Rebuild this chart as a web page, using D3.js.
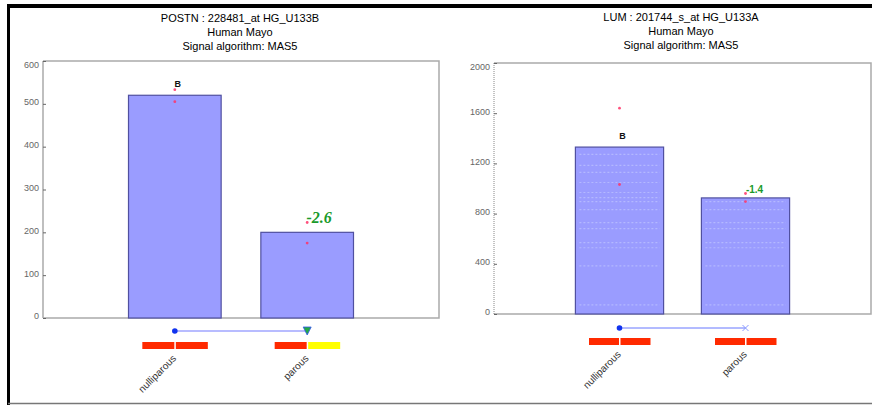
<!DOCTYPE html>
<html><head><meta charset="utf-8">
<script src="https://cdn.jsdelivr.net/npm/d3@7"></script>
<style>
html,body{margin:0;padding:0;background:#fff;}
svg{display:block;font-family:Arial,"Liberation Sans",sans-serif;}
</style></head>
<body><svg id="c" width="872" height="406"></svg>
<script>
// ---- data ----
const categories = ["nulliparous", "parous"];
// Panel 1: POSTN
const titles1 = ["POSTN : 228481_at HG_U133B", "Human Mayo", "Signal algorithm: MAS5"];
const means1 = [520, 200];
const points1 = [[505, 533], [175, 223]];
const ticks1 = [0, 100, 200, 300, 400, 500, 600];
const callLabels1 = ["B", "-2.6"];
const swatches1 = [["#ff2a00", "#ff2a00"], ["#ff2a00", "#ffff00"]];
// Panel 2: LUM
const titles2 = ["LUM : 201744_s_at HG_U133A", "Human Mayo", "Signal algorithm: MAS5"];
const means2 = [1330, 925];
const points2 = [[1032, 1640], [896, 960]];
const ticks2 = [0, 400, 800, 1200, 1600, 2000];
const callLabels2 = ["B", "-1.4"];
const swatches2 = [["#ff2a00", "#ff2a00"], ["#ff2a00", "#ff2a00"]];
const sampleLines2 = [72, 384, 528, 568, 680, 728, 832, 896, 928, 968, 1048, 1128, 1184, 1272];

const svg = d3.select("#c");

// outer frame
svg.append("line").attr("x1", 7).attr("x2", 872).attr("y1", 6).attr("y2", 6).attr("stroke", "#000").attr("stroke-width", 4);
svg.append("line").attr("x1", 8.5).attr("x2", 8.5).attr("y1", 4).attr("y2", 405).attr("stroke", "#000").attr("stroke-width", 3);
svg.append("line").attr("x1", 8).attr("x2", 872).attr("y1", 403.5).attr("y2", 403.5).attr("stroke", "#777").attr("stroke-width", 1.5);

function panel(cfg) {
  const g = svg.append("g");
  const y = d3.scaleLinear().domain(cfg.domain).range([cfg.y0, cfg.y1]);
  const x = d3.scaleBand().domain(categories).range([cfg.x0, cfg.x1]).paddingInner(0.3).paddingOuter(0.646);
  const cx = c => x(c) + x.bandwidth() / 2;

  // titles
  g.selectAll("text.title").data(cfg.titles).join("text")
    .attr("x", cfg.titleX).attr("y", (d, i) => cfg.titleY + i * 14)
    .attr("text-anchor", "middle").attr("font-size", 11).attr("fill", "#000").text(d => d);

  // plot frame (top, right, bottom)
  g.append("path")
    .attr("d", `M${cfg.x0},${cfg.y1}H${cfg.x1}V${cfg.y0}H${cfg.x0}`)
    .attr("fill", "none").attr("stroke", "#aaa").attr("stroke-width", 1.5);
  // y axis
  g.append("line").attr("x1", cfg.x0).attr("x2", cfg.x0).attr("y1", cfg.y1).attr("y2", cfg.y0)
    .attr("stroke", cfg.dotted ? "#888" : "#aaa").attr("stroke-width", cfg.dotted ? 1 : 1.5)
    .attr("stroke-dasharray", cfg.dotted ? "1,1" : null);
  const yAxis = d3.axisRight(y).tickValues(cfg.ticks).tickSize(3).tickFormat(d3.format("d"));
  const ag = g.append("g").attr("transform", `translate(${cfg.x0},0)`).call(yAxis);
  ag.select(".domain").remove();
  ag.selectAll(".tick line").attr("stroke", "#666");
  ag.selectAll(".tick text").attr("x", -4).attr("text-anchor", "end").attr("dy", "0.1em")
    .attr("font-size", 9).attr("fill", "#666").attr("font-family", "Arial, sans-serif");
  ag.selectAll(".tick").filter(d => d === cfg.domain[1]).select("text").attr("dy", "0.75em");

  // bars
  g.selectAll("rect.bar").data(cfg.means).join("rect")
    .attr("x", (d, i) => x(categories[i])).attr("width", x.bandwidth())
    .attr("y", d => y(d)).attr("height", d => y(0) - y(d))
    .attr("fill", "#9a9cff").attr("stroke", "#5050a0").attr("stroke-width", 1.2);

  // faint sample lines inside bars
  if (cfg.sampleLines) {
    cfg.means.forEach((m, i) => {
      g.selectAll(null).data(cfg.sampleLines.filter(v => v < m - 10)).join("line")
        .attr("x1", x(categories[i]) + 4).attr("x2", x(categories[i]) + x.bandwidth() - 4)
        .attr("y1", d => y(d)).attr("y2", d => y(d))
        .attr("stroke", "#b4b8ff").attr("stroke-width", 1.2).attr("stroke-dasharray", "2,2");
    });
  }

  // replicate points
  cfg.points.forEach((pts, i) => {
    g.selectAll(null).data(pts).join("circle")
      .attr("cx", cx(categories[i])).attr("cy", d => y(d)).attr("r", 1.4)
      .attr("fill", "#ff3366").attr("opacity", 0.85);
  });

  // call labels
  g.append("text").attr("x", cx(categories[0]) + 3).attr("y", y(cfg.means[0]) - 8)
    .attr("text-anchor", "middle").attr("font-size", 9).attr("font-weight", "bold").attr("fill", "#111")
    .text(cfg.calls[0]);
  g.append("text").attr("x", cx(categories[1]) + cfg.callDx).attr("y", y(cfg.means[1]) - cfg.callDy)
    .attr("text-anchor", "middle").attr("font-size", cfg.callSize).attr("font-weight", "bold")
    .attr("font-style", cfg.callItalic ? "italic" : null)
    .attr("font-family", cfg.callSerif ? "'Liberation Serif','DejaVu Serif',serif" : "Arial, sans-serif")
    .attr("fill", "#1a9a2a").text(cfg.calls[1]);

  // comparison line
  const ly = cfg.y0 + cfg.lineOff;
  g.append("line").attr("x1", cx(categories[0])).attr("x2", cx(categories[1]))
    .attr("y1", ly).attr("y2", ly).attr("stroke", cfg.lineColor).attr("stroke-width", cfg.lineW);
  g.append("circle").attr("cx", cx(categories[0])).attr("cy", ly).attr("r", 2.8).attr("fill", "#1133ee");
  if (cfg.endMarker === "tri") {
    const ex = cx(categories[1]);
    g.append("path").attr("d", `M${ex - 4},${ly - 4}L${ex + 4},${ly - 4}L${ex},${ly + 4}Z`)
      .attr("fill", "#22aa44").attr("stroke", "#3355ee").attr("stroke-width", 0.8);
  } else {
    const ex = cx(categories[1]);
    g.append("path").attr("d", `M${ex - 3},${ly - 3}L${ex + 3},${ly + 3}M${ex - 3},${ly + 3}L${ex + 3},${ly - 3}`)
      .attr("stroke", "#8899ff").attr("stroke-width", 1);
  }

  // swatches
  cfg.swatches.forEach((sw, i) => {
    const c = cx(categories[i]);
    g.selectAll(null).data(sw).join("rect")
      .attr("x", (d, j) => j === 0 ? c - cfg.swW - 0.5 : c + 1)
      .attr("y", ly + cfg.swOff).attr("width", cfg.swW).attr("height", 7)
      .attr("fill", d => d);
  });

  // category labels
  g.selectAll("text.cat").data(categories).join("text")
    .attr("transform", d => `translate(${cx(d) + 2},${ly + cfg.swOff + 17}) rotate(-45)`)
    .attr("text-anchor", "end").attr("font-size", 10).attr("fill", "#333").text(d => d);
}

panel({
  titles: titles1, titleX: 240, titleY: 22,
  domain: [0, 600], ticks: ticks1, y0: 318, y1: 61, x0: 43, x1: 439,
  means: means1, points: points1, calls: callLabels1,
  callDx: 12, callDy: 9, callSize: 16, callItalic: true, callSerif: true,
  lineOff: 13, lineColor: "#b8bcff", lineW: 2.2, endMarker: "tri",
  swatches: swatches1, swW: 32, swOff: 11, dotted: false
});
panel({
  titles: titles2, titleX: 681, titleY: 21,
  domain: [0, 2000], ticks: ticks2, y0: 314, y1: 63, x0: 494, x1: 871,
  means: means2, points: points2, calls: callLabels2, sampleLines: sampleLines2,
  callDx: 9, callDy: 5, callSize: 10, callItalic: false, callSerif: false,
  lineOff: 14, lineColor: "#6677ff", lineW: 1, endMarker: "x",
  swatches: swatches2, swW: 30, swOff: 10, dotted: true
});
</script></body></html>
